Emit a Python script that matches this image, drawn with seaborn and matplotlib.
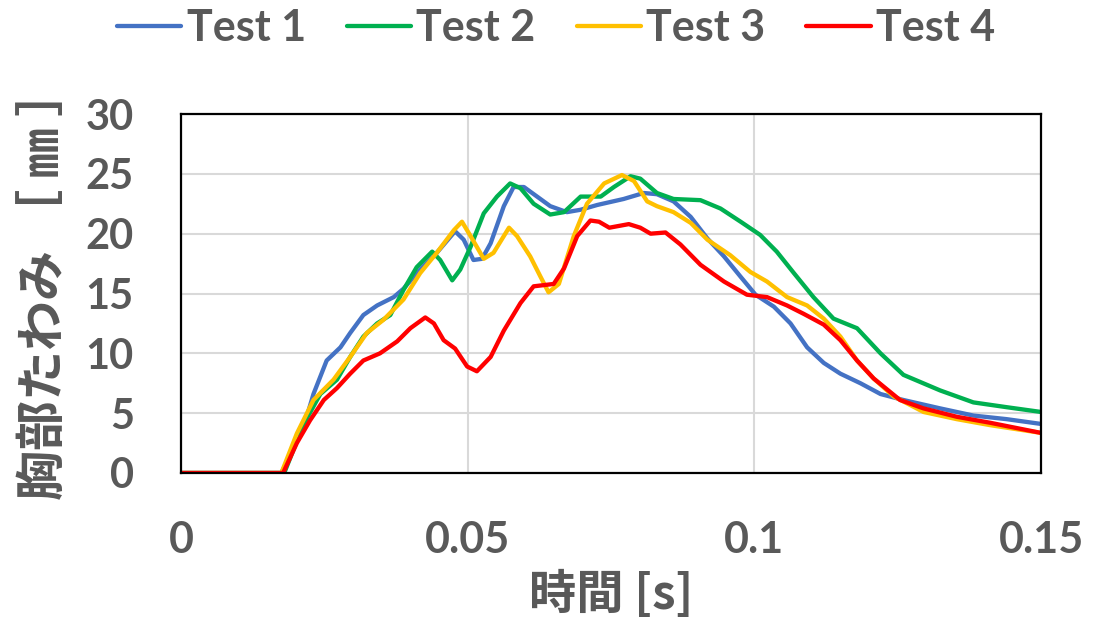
import matplotlib
matplotlib.use("Agg")
import matplotlib.pyplot as plt
import seaborn as sns
import pandas as pd

# ---- data ----
t1 = [0, 0.0175, 0.0214, 0.0231, 0.0254, 0.0278, 0.0295, 0.0318, 0.0342, 0.0371, 0.0388, 0.0417,
      0.0446, 0.0478, 0.0493, 0.0510, 0.0525, 0.0540, 0.0563, 0.0580, 0.0598, 0.0621, 0.0644, 0.0673,
      0.0697, 0.0726, 0.0772, 0.0807, 0.0830, 0.0859, 0.0889, 0.0918, 0.0947, 0.0976, 0.1002, 0.1034,
      0.1063, 0.1092, 0.1121, 0.1150, 0.1185, 0.1220, 0.1260, 0.1324, 0.1382, 0.1440, 0.1500]
v1 = [0, 0, 3.85, 6.6, 9.4, 10.5, 11.7, 13.2, 14.0, 14.7, 15.4, 17.0,
      18.4, 20.2, 19.5, 17.8, 17.9, 19.2, 22.3, 23.9, 23.9, 23.1, 22.3, 21.8,
      22.0, 22.4, 22.9, 23.4, 23.3, 22.7, 21.4, 19.6, 18.1, 16.4, 14.9, 13.9,
      12.5, 10.5, 9.2, 8.3, 7.5, 6.6, 6.1, 5.4, 4.8, 4.5, 4.1]

t2 = [0, 0.0180, 0.0214, 0.0243, 0.0272, 0.0295, 0.0318, 0.0342, 0.0365, 0.0388, 0.0411, 0.0438,
      0.0452, 0.0473, 0.0487, 0.0505, 0.0528, 0.0551, 0.0574, 0.0592, 0.0615, 0.0644, 0.0668, 0.0697,
      0.0732, 0.0755, 0.0784, 0.0801, 0.0830, 0.0859, 0.0906, 0.0941, 0.0976, 0.1010, 0.1039, 0.1069,
      0.1103, 0.1138, 0.1179, 0.1220, 0.1260, 0.1324, 0.1382, 0.1440, 0.1500]
v2 = [0, 0, 4.1, 6.6, 7.8, 9.7, 11.4, 12.5, 13.2, 15.3, 17.2, 18.5,
      17.8, 16.1, 17.0, 18.9, 21.7, 23.1, 24.2, 23.8, 22.5, 21.6, 21.8, 23.1,
      23.1, 23.9, 24.8, 24.6, 23.4, 22.9, 22.8, 22.1, 21.0, 19.9, 18.5, 16.7,
      14.7, 12.9, 12.1, 10.0, 8.2, 6.9, 5.9, 5.5, 5.1]

t3 = [0, 0.0175, 0.0202, 0.0231, 0.0266, 0.0295, 0.0324, 0.0353, 0.0388, 0.0417, 0.0446, 0.0476,
      0.0490, 0.0505, 0.0528, 0.0545, 0.0572, 0.0586, 0.0609, 0.0627, 0.0641, 0.0659, 0.0685, 0.0708,
      0.0738, 0.0769, 0.0790, 0.0813, 0.0830, 0.0859, 0.0889, 0.0918, 0.0958, 0.0993, 0.1022, 0.1057,
      0.1092, 0.1121, 0.1150, 0.1179, 0.1208, 0.1243, 0.1295, 0.1353, 0.1411, 0.1500]
v3 = [0, 0, 3.3, 6.1, 7.8, 9.7, 11.7, 12.8, 14.5, 16.7, 18.4, 20.3,
      21.0, 19.8, 17.9, 18.4, 20.5, 19.8, 18.1, 16.4, 15.1, 15.8, 19.8, 22.5,
      24.2, 24.9, 24.4, 22.7, 22.3, 21.8, 20.9, 19.5, 18.2, 16.8, 16.0, 14.7,
      14.0, 12.9, 11.4, 9.4, 7.9, 6.4, 5.1, 4.5, 4.0, 3.35]

t4 = [0, 0.0178, 0.0202, 0.0225, 0.0249, 0.0272, 0.0295, 0.0318, 0.0347, 0.0377, 0.0400, 0.0426,
      0.0441, 0.0458, 0.0478, 0.0499, 0.0516, 0.0540, 0.0563, 0.0592, 0.0615, 0.0650, 0.0668, 0.0691,
      0.0714, 0.0729, 0.0747, 0.0781, 0.0801, 0.0819, 0.0845, 0.0871, 0.0906, 0.0947, 0.0987, 0.1022,
      0.1057, 0.1086, 0.1121, 0.1150, 0.1179, 0.1208, 0.1254, 0.1295, 0.1353, 0.1411, 0.1500]
v4 = [0, 0, 2.5, 4.4, 6.1, 7.1, 8.3, 9.4, 10.0, 11.0, 12.1, 13.0,
      12.5, 11.1, 10.4, 8.9, 8.5, 9.7, 11.9, 14.2, 15.6, 15.8, 17.1, 19.8,
      21.1, 21.0, 20.5, 20.8, 20.5, 20.0, 20.1, 19.1, 17.4, 16.0, 14.9, 14.7,
      14.0, 13.3, 12.4, 11.1, 9.4, 7.9, 6.1, 5.4, 4.7, 4.2, 3.35]

series_names = ["Test 1", "Test 2", "Test 3", "Test 4"]
colors = ["#4472C4", "#00B050", "#FFC000", "#FF0000"]
x_ticks = [0, 0.05, 0.1, 0.15]
x_tick_labels = ["0", "0.05", "0.1", "0.15"]
y_ticks = [0, 5, 10, 15, 20, 25, 30]
x_label = "時間 [s]"
y_label = "胸部たわみ ［ ㎜ ］"

frames = []
for name, t, v in zip(series_names, [t1, t2, t3, t4], [v1, v2, v3, v4]):
    frames.append(pd.DataFrame({"time": t, "defl": v, "series": name}))
df = pd.concat(frames, ignore_index=True)

sns.set_theme(style="white")
plt.rcParams['font.family'] = ['Lato', 'Noto Sans CJK JP', 'DejaVu Sans']
TXT = "#595959"

fig = plt.figure(figsize=(11.12, 6.31), dpi=100)
ax = fig.add_axes([0.1628, 0.2504, 0.9362 - 0.1628, 0.8193 - 0.2504])

sns.lineplot(data=df, x="time", y="defl", hue="series", hue_order=series_names,
             palette=colors, linewidth=3.1, sort=False, estimator=None, legend=False, ax=ax)

ax.set_xlim(0, 0.15)
ax.set_ylim(0, 30)
ax.set_xticks(x_ticks)
ax.set_xticklabels(x_tick_labels)
ax.set_yticks(y_ticks)
ax.grid(True, color="#d9d9d9", linewidth=1.5)
ax.set_axisbelow(True)
for s in ax.spines.values():
    s.set_visible(True)
    s.set_color("black")
    s.set_linewidth(1.6)
ax.tick_params(axis="x", length=0, pad=34, labelsize=31, labelcolor=TXT)
ax.tick_params(axis="y", length=0, pad=34, labelsize=30, labelcolor=TXT)
for lab in ax.get_xticklabels() + ax.get_yticklabels():
    lab.set_fontweight("bold")

ax.set_xlabel(x_label, fontsize=34, color=TXT, fontweight="bold",
              family=['Noto Sans CJK JP', 'Lato'], labelpad=8)
ax.set_ylabel(y_label, fontsize=36, color=TXT, fontweight="bold",
              family=['Noto Sans CJK JP', 'DejaVu Sans'], labelpad=6)
ax.yaxis.set_label_coords(-0.128, 0.53)

handles = ax.get_lines()[:4]
fig.legend(handles, series_names, loc="center", bbox_to_anchor=(0.5, 0.955), ncol=4,
           frameon=False, prop={"family": "Lato", "weight": "bold", "size": 31},
           labelcolor=TXT, handlelength=1.5, handletextpad=0.12, columnspacing=0.95)

fig.savefig("out.png", dpi=100, facecolor="white")
